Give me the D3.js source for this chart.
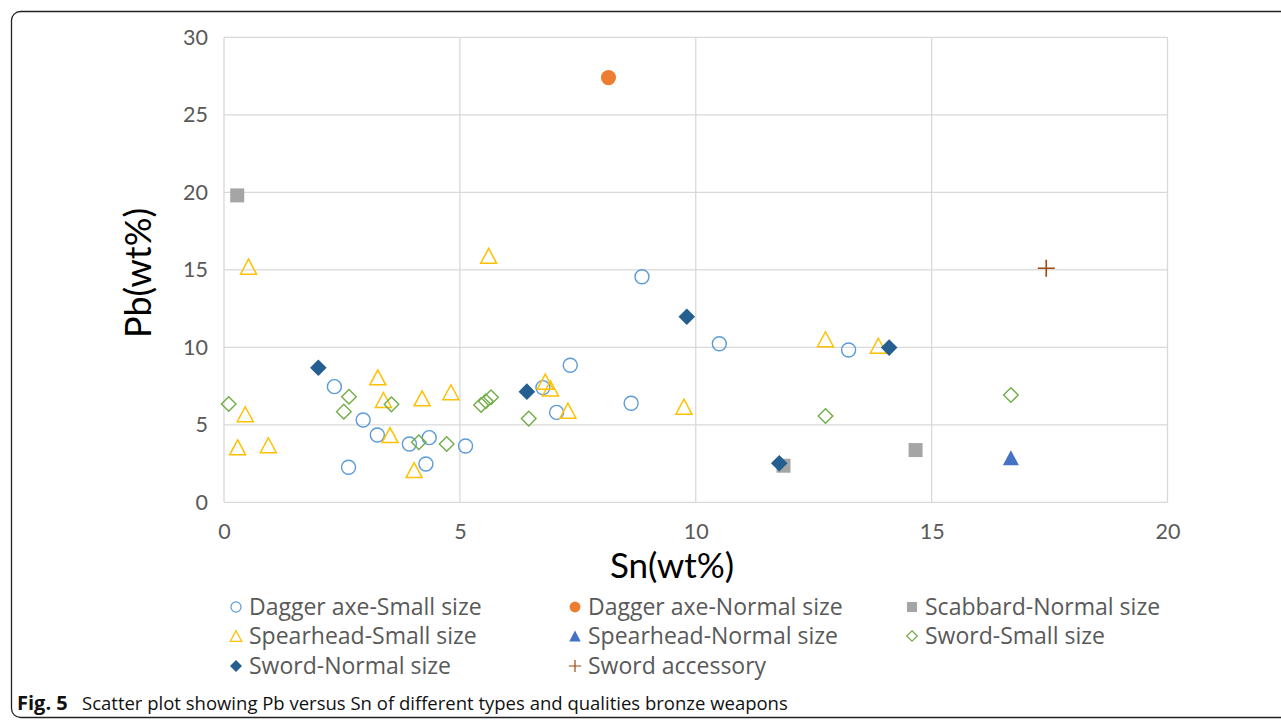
<!DOCTYPE html>
<html>
<head>
<meta charset="utf-8">
<script src="https://cdn.jsdelivr.net/npm/d3@7"></script>
<style>
  body { margin: 0; background: #fff; }
  svg { display: block; }
  text { font-family: Lato, "Open Sans", sans-serif; }
</style>
</head>
<body>
<svg width="1281" height="720"></svg>
<script>
// values, [Sn, Pb] in wt%
var daggerSmall = [[2.34,7.46],[2.95,5.31],[3.25,4.34],[2.64,2.26],[4.28,2.47],[3.93,3.76],[4.35,4.17],[5.12,3.63],
  [8.86,14.55],[10.5,10.23],[7.34,8.84],[6.76,7.4],[7.05,5.8],[8.63,6.39],[13.24,9.83]];
var daggerNormal = [[8.15,27.4]];
var scabbardNormal = [[0.28,19.8],[11.86,2.36],[14.66,3.37]];
var spearSmall = [[0.52,15.2],[5.61,15.9],[0.45,5.68],[3.26,8.06],[3.38,6.6],[3.52,4.34],[0.29,3.55],[0.94,3.68],
  [4.03,2.08],[4.2,6.71],[4.81,7.1],[6.81,7.78],[6.92,7.35],[7.29,5.91],[9.75,6.17],[12.75,10.52],[13.87,10.1]];
var spearNormal = [[16.68,2.88]];
var swordSmall = [[0.1,6.34],[2.65,6.81],[2.54,5.85],[3.55,6.32],[4.13,3.87],[4.72,3.76],[5.45,6.28],[5.55,6.52],
  [5.66,6.78],[6.46,5.4],[12.75,5.57],[16.68,6.92]];
var swordNormal = [[2.0,8.68],[6.42,7.14],[9.81,11.97],[11.77,2.52],[14.1,9.98]];
var swordAccessory = [[17.43,15.1]];

var seriesNames = ["Dagger axe-Small size","Dagger axe-Normal size","Scabbard-Normal size",
  "Spearhead-Small size","Spearhead-Normal size","Sword-Small size",
  "Sword-Normal size","Sword accessory"];
var xTicks = [0,5,10,15,20];
var yTicks = [0,5,10,15,20,25,30];

var svg = d3.select('svg');

// marker shapes, s = scale factor (1 for plot, smaller for legend)
function circle(s){ var r = 7*s; return "M"+r+",0A"+r+","+r+" 0 1,1 "+(-r)+",0A"+r+","+r+" 0 1,1 "+r+",0Z"; }
function tri(s){ return "M0,"+(-7.5*s)+"L"+(8*s)+","+(7.5*s)+"L"+(-8*s)+","+(7.5*s)+"Z"; }
function square(s){ var h = 7*s; return "M"+(-h)+","+(-h)+"H"+h+"V"+h+"H"+(-h)+"Z"; }
function diamond(w){ return function(s){ var h = w*s; return "M0,"+(-h)+"L"+h+",0L0,"+h+"L"+(-h)+",0Z"; }; }
function plus(s){ var h = 8.5*s; return "M"+(-h)+",0H"+h+"M0,"+(-h)+"V"+h; }

var series = [
  {data: daggerSmall, shape: circle, fill: "none", stroke: "#5B9BD5", sw: 1.4},
  {data: daggerNormal, shape: function(s){ return circle(s*1.08); }, fill: "#ED7D31", stroke: "none", sw: 0},
  {data: scabbardNormal, shape: square, fill: "#A5A5A5", stroke: "none", sw: 0},
  {data: spearSmall, shape: tri, fill: "none", stroke: "#FFC000", sw: 1.5},
  {data: spearNormal, shape: tri, fill: "#4472C4", stroke: "none", sw: 0},
  {data: swordSmall, shape: diamond(7.3), fill: "none", stroke: "#70AD47", sw: 1.4},
  {data: swordNormal, shape: diamond(8.3), fill: "#255E91", stroke: "none", sw: 0},
  {data: swordAccessory, shape: plus, fill: "none", stroke: "#9E480E", sw: 1.6}
];

// outer frame of the figure
svg.append('rect')
  .attr('x', 11.5).attr('y', 11.5)
  .attr('width', 1320).attr('height', 706)
  .attr('rx', 9)
  .attr('fill', 'none')
  .attr('stroke', '#222')
  .attr('stroke-width', 1.3);

var scaleX = d3.scaleLinear().domain([0,20]).range([224,1167.5]);
var scaleY = d3.scaleLinear().domain([0,30]).range([502.3,37.3]);

// gridlines
svg.append('g')
  .selectAll('line.gx')
  .data(xTicks)
  .enter()
  .append('line')
  .attr('x1', function(d){ return scaleX(d); })
  .attr('x2', function(d){ return scaleX(d); })
  .attr('y1', scaleY(0)).attr('y2', scaleY(30))
  .attr('stroke', '#D9D9D9').attr('stroke-width', 1.3);

svg.append('g')
  .selectAll('line.gy')
  .data(yTicks)
  .enter()
  .append('line')
  .attr('x1', scaleX(0)).attr('x2', scaleX(20))
  .attr('y1', function(d){ return scaleY(d); })
  .attr('y2', function(d){ return scaleY(d); })
  .attr('stroke', '#D9D9D9').attr('stroke-width', 1.3);

// axes, tick labels only
var axX = svg.append('g')
  .attr('transform', 'translate(0,' + scaleY(0) + ')')
  .call(d3.axisBottom(scaleX).tickValues(xTicks).tickSize(0).tickPadding(21));
var axY = svg.append('g')
  .attr('transform', 'translate(' + scaleX(0) + ',0)')
  .call(d3.axisLeft(scaleY).tickValues(yTicks).tickSize(0).tickPadding(16));
[axX, axY].forEach(function(a){
  a.select('.domain').remove();
  a.selectAll('text')
    .style('font-family', 'Lato, sans-serif')
    .style('font-size', '21.5px')
    .attr('fill', '#595959');
});

svg.append('text')
  .attr('x', 672).attr('y', 578)
  .attr('text-anchor', 'middle')
  .style('font-size', '35px')
  .attr('fill', '#000')
  .text('Sn(wt%)');

svg.append('text')
  .attr('transform', 'translate(151,273) rotate(-90)')
  .attr('text-anchor', 'middle')
  .style('font-size', '36px')
  .attr('fill', '#000')
  .text('Pb(wt%)');

// points
series.forEach(function(s){
  svg.append('g')
    .selectAll('path')
    .data(s.data)
    .enter()
    .append('path')
    .attr('transform', function(d){ return 'translate(' + scaleX(d[0]) + ',' + scaleY(d[1]) + ')'; })
    .attr('d', s.shape(1))
    .attr('fill', s.fill)
    .attr('stroke', s.stroke)
    .attr('stroke-width', s.sw);
});

// legend, three columns
var legX = [236, 575, 912];
var legY = [607, 636, 666];
var leg = svg.append('g')
  .selectAll('g')
  .data(series)
  .enter()
  .append('g')
  .attr('transform', function(d, i){ return 'translate(' + legX[i % 3] + ',' + legY[Math.floor(i / 3)] + ')'; });

leg.append('path')
  .attr('d', function(d){ return d.shape(0.72); })
  .attr('fill', function(d){ return d.fill; })
  .attr('stroke', function(d){ return d.stroke; })
  .attr('stroke-width', function(d){ return d.sw ? 1.2 : 0; });

leg.append('text')
  .attr('x', 13).attr('y', 8)
  .style('font-family', '"Open Sans", sans-serif')
  .style('font-size', '23px')
  .attr('fill', '#595959')
  .text(function(d, i){ return seriesNames[i]; });

// caption
var cap = svg.append('text')
  .attr('x', 17).attr('y', 710)
  .style('font-family', '"Open Sans", sans-serif')
  .style('font-size', '18.5px')
  .attr('fill', '#111');
cap.append('tspan').style('font-weight', 'bold').style('font-size', '20px').text('Fig. 5');
cap.append('tspan').attr('x', 82).text('Scatter plot showing Pb versus Sn of different types and qualities bronze weapons');
</script>
</body>
</html>
